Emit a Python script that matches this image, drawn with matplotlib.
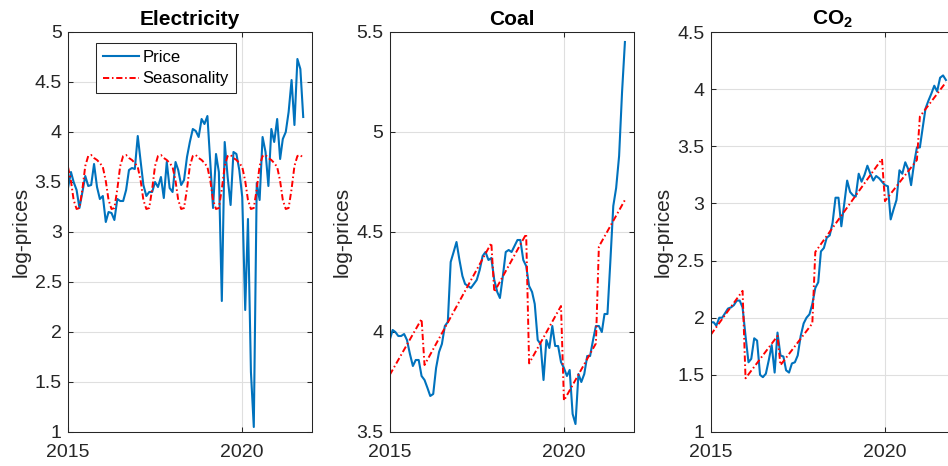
import numpy as np
import pandas as pd
import matplotlib
matplotlib.use("Agg")
import matplotlib.pyplot as plt
import matplotlib.dates as mdates
from matplotlib.ticker import FuncFormatter, MultipleLocator

plt.rcParams['font.family'] = ['Liberation Sans', 'DejaVu Sans']
plt.rcParams['mathtext.fontset'] = 'custom'
plt.rcParams['mathtext.rm'] = 'Liberation Sans'
plt.rcParams['mathtext.bf'] = 'Liberation Sans:bold'

# monthly observations, Jan 2015 .. Oct 2021
dates = pd.date_range('2015-01-01', periods=82, freq='MS')

elec_price = [3.44, 3.60, 3.50, 3.42, 3.24, 3.40, 3.56, 3.46, 3.47, 3.68, 3.45, 3.33,
              3.36, 3.10, 3.20, 3.19, 3.12, 3.33, 3.31, 3.31, 3.42, 3.62, 3.64, 3.63,
              3.96, 3.70, 3.47, 3.36, 3.40, 3.40, 3.50, 3.45, 3.55, 3.34, 3.70, 3.44,
              3.40, 3.70, 3.62, 3.47, 3.52, 3.75, 3.90, 4.03, 4.01, 3.95, 4.13, 4.08,
              4.16, 3.68, 3.24, 3.78, 3.60, 2.31, 3.90, 3.55, 3.27, 3.80, 3.78, 3.62,
              3.35, 2.22, 3.13, 1.60, 1.05, 3.49, 3.32, 3.95, 3.80, 3.46, 4.03, 3.90,
              4.13, 3.73, 3.93, 4.00, 4.20, 4.52, 4.07, 4.73, 4.63, 4.15]

elec_season = [3.65, 3.51, 3.32, 3.23, 3.24, 3.43, 3.66, 3.76, 3.77, 3.74, 3.72, 3.69,
               3.65, 3.51, 3.32, 3.23, 3.24, 3.43, 3.66, 3.76, 3.77, 3.74, 3.72, 3.69,
               3.65, 3.51, 3.32, 3.23, 3.24, 3.43, 3.66, 3.76, 3.77, 3.74, 3.72, 3.69,
               3.65, 3.51, 3.32, 3.23, 3.24, 3.43, 3.66, 3.76, 3.77, 3.74, 3.72, 3.69,
               3.65, 3.51, 3.32, 3.23, 3.24, 3.43, 3.66, 3.76, 3.77, 3.74, 3.72, 3.69,
               3.65, 3.51, 3.32, 3.23, 3.24, 3.43, 3.66, 3.76, 3.77, 3.74, 3.72, 3.69,
               3.65, 3.51, 3.32, 3.23, 3.24, 3.43, 3.66, 3.76, 3.77, 3.74]

coal_price = [3.96, 4.01, 4.00, 3.98, 3.98, 3.99, 3.96, 3.89, 3.83, 3.86, 3.86, 3.78,
              3.76, 3.72, 3.68, 3.69, 3.82, 3.90, 3.94, 4.03, 4.05, 4.35, 4.40, 4.45,
              4.36, 4.28, 4.24, 4.23, 4.22, 4.24, 4.26, 4.31, 4.38, 4.40, 4.36, 4.37,
              4.26, 4.20, 4.17, 4.28, 4.40, 4.41, 4.40, 4.43, 4.46, 4.46, 4.36, 4.33,
              4.23, 4.20, 4.14, 3.96, 3.94, 3.76, 3.96, 3.92, 4.03, 3.93, 3.93, 3.85,
              3.82, 3.78, 3.81, 3.59, 3.54, 3.79, 3.75, 3.79, 3.88, 3.88, 3.96, 4.03,
              4.03, 4.00, 4.09, 4.09, 4.35, 4.63, 4.72, 4.88, 5.20, 5.45]

# seasonal component is piecewise linear: vertices only
coal_season_dates = ['2015-01-01', '2015-12-01', '2016-01-01', '2017-12-01',
                     '2018-01-01', '2018-12-01', '2019-01-01', '2019-12-01',
                     '2020-01-01', '2020-12-01', '2021-01-01', '2021-10-01']
coal_season = [3.785, 4.065, 3.835, 4.445, 4.20, 4.49, 3.843, 4.13,
               3.657, 3.943, 4.427, 4.66]

co2_price = [1.96, 1.96, 1.93, 2.00, 2.00, 2.04, 2.08, 2.09, 2.11, 2.15, 2.15, 2.09,
             1.84, 1.61, 1.64, 1.82, 1.80, 1.50, 1.48, 1.51, 1.63, 1.76, 1.52, 1.87,
             1.67, 1.66, 1.54, 1.52, 1.60, 1.61, 1.67, 1.84, 1.95, 2.00, 2.03, 2.12,
             2.26, 2.31, 2.58, 2.61, 2.70, 2.72, 2.83, 3.05, 3.05, 2.80, 3.00, 3.20,
             3.10, 3.07, 3.06, 3.26, 3.19, 3.25, 3.33, 3.26, 3.20, 3.24, 3.22, 3.19,
             3.16, 3.15, 2.86, 2.95, 3.03, 3.29, 3.26, 3.36, 3.30, 3.16, 3.35, 3.49,
             3.49, 3.67, 3.83, 3.90, 3.96, 4.03, 3.98, 4.10, 4.12, 4.08]

co2_season_dates = ['2015-01-01', '2015-12-01', '2016-01-01', '2016-12-01',
                    '2017-01-01', '2017-12-01', '2018-01-01', '2019-12-01',
                    '2020-01-01', '2020-12-01', '2021-01-01', '2021-10-01']
co2_season = [1.85, 2.235, 1.47, 1.84, 1.585, 1.95, 2.575, 3.39,
              3.02, 3.38, 3.76, 4.06]

titles = ['Electricity', 'Coal', r'$\mathbf{CO_2}$']
ylims = [(1, 5), (3.5, 5.5), (1, 4.5)]
lefts = [68 / 948, 389.7 / 948, 710.7 / 948]

blue = '#0072BD'
grey = '#262626'

fig = plt.figure(figsize=(9.48, 4.66), dpi=100)

panels = [
    (elec_price, dates, elec_season),
    (coal_price, pd.to_datetime(coal_season_dates), coal_season),
    (co2_price, pd.to_datetime(co2_season_dates), co2_season),
]

axes = []
for k, (price, sdates, season) in enumerate(panels):
    ax = fig.add_axes([lefts[k], 34 / 466, 244 / 948, 400 / 466])
    ax.plot(dates, price, color=blue, lw=1.5, label='Price')
    ax.plot(sdates, season, color='red', lw=1.4,
            linestyle=(0, (3.2, 1.4, 0.8, 1.4)), label='Seasonality')
    ax.set_xlim(pd.Timestamp('2015-01-01'), pd.Timestamp('2022-01-01'))
    ax.set_ylim(*ylims[k])
    ax.yaxis.set_major_locator(MultipleLocator(0.5))
    ax.yaxis.set_major_formatter(FuncFormatter(lambda v, p: '%g' % v))
    ax.set_xticks([pd.Timestamp('2015-01-01'), pd.Timestamp('2020-01-01')])
    ax.xaxis.set_major_formatter(mdates.DateFormatter('%Y'))
    ax.grid(True, color='#dfdfdf', lw=0.8)
    ax.set_axisbelow(True)
    ax.tick_params(direction='in', top=True, right=True, length=3.5, width=0.75,
                   colors=grey, labelsize=14, pad=4.5)
    ax.tick_params(axis='x', pad=8.5)
    for sp in ax.spines.values():
        sp.set_color(grey)
        sp.set_linewidth(0.75)
    ax.set_ylabel('log-prices', fontsize=15, color=grey, labelpad=3)
    ax.set_title(titles[k], fontsize=15, fontweight='bold', pad=5)
    axes.append(ax)

leg = axes[0].legend(loc='upper left', bbox_to_anchor=(0.115, 0.9725), borderaxespad=0,
                     fontsize=12, fancybox=False, framealpha=1, edgecolor=grey,
                     borderpad=0.4, labelspacing=0.4, handlelength=2.2, handletextpad=0.2)
leg.get_frame().set_linewidth(0.75)

fig.savefig('out.png', dpi=100)
